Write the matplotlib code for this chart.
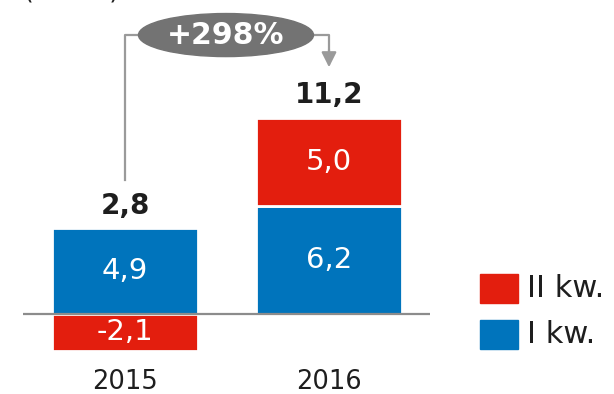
import matplotlib
matplotlib.use("Agg")
import matplotlib.pyplot as plt
from matplotlib.patches import Ellipse, Rectangle

years = ["2015", "2016"]
q1 = [4.9, 6.2]
q2 = [-2.1, 5.0]
totals = [2.8, 11.2]
change_label = "+298%"
legend_labels = ["II kw.", "I kw."]

RED = "#E31E0E"
BLUE = "#0074BC"
GREY_LINE = "#9A9A9A"
GREY_OVAL = "#737373"
TEXT = "#1E1E1E"

def fmt(v):
    return f"{v:.1f}".replace(".", ",")

W, H = 614, 394
fig = plt.figure(figsize=(W / 100, H / 100), dpi=100)
ax = fig.add_axes([0, 0, 1, 1])
px_x = 204.0
px_y = 17.5
ax.set_xlim(-125 / px_x, (W - 125) / px_x)
ax.set_ylim(-(H - 314) / px_y, 314 / px_y)
ax.axis("off")

x = list(range(len(years)))
bw = 0.718
edge = dict(edgecolor="white", linewidth=2.0)

# stacked bars: negative values go below zero, positive ones stack on top
for i in x:
    ax.bar(i, q1[i], width=bw, color=BLUE, zorder=2, **edge)
    if q2[i] >= 0:
        ax.bar(i, q2[i], bottom=q1[i], width=bw, color=RED, zorder=2, **edge)
        mid2 = q1[i] + q2[i] / 2
    else:
        ax.bar(i, q2[i], width=bw, color=RED, zorder=2, **edge)
        mid2 = q2[i] / 2
    ax.text(i, q1[i] / 2, fmt(q1[i]), color="white", fontsize=21,
            ha="center", va="center", zorder=4)
    ax.text(i, mid2, fmt(q2[i]), color="white", fontsize=21,
            ha="center", va="center", zorder=4)
    top = max(q1[i], q1[i] + q2[i])
    ax.text(i, top + 1.3, fmt(totals[i]), color=TEXT, fontsize=20,
            fontweight="bold", ha="center", va="center", zorder=4)

# zero line
ax.plot([-0.5, 1.495], [0, 0], color="#8C8C8C", lw=1.6, zorder=3,
        solid_capstyle="butt")

# category labels
for i in x:
    ax.text(i, -3.88, years[i], color=TEXT, fontsize=18.5, ha="center", va="center")

# growth bracket with oval badge
oval_x, oval_y = 0.495, 15.94
oval_w, oval_h = 0.858, 2.46
ax.plot([0, 0, oval_x - oval_w / 2], [7.66, oval_y, oval_y],
        color=GREY_LINE, lw=1.6, zorder=1)
ax.plot([oval_x + oval_w / 2, 1.0, 1.0], [oval_y, oval_y, 14.9],
        color=GREY_LINE, lw=1.6, zorder=1)
ax.annotate("", xy=(1.0, 14.1), xytext=(1.0, 15.1),
            arrowprops=dict(arrowstyle="-|>,head_length=0.9,head_width=0.45",
                            color=GREY_LINE, lw=1.6, shrinkA=0, shrinkB=0))
ax.add_patch(Ellipse((oval_x, oval_y), oval_w, oval_h, color=GREY_OVAL, zorder=2))
ax.text(oval_x, oval_y, change_label, color="white", fontsize=21.5,
        fontweight="bold", ha="center", va="center", zorder=3)

# unit label sitting at the top edge
fig.text(71 / W, 1 + 1.2 / H, "(mln zł)", color=TEXT, fontsize=18,
         ha="center", va="baseline")

# legend
legend_colors = [RED, BLUE]
for k, (lab, col) in enumerate(zip(legend_labels, legend_colors)):
    top_px = 274 + 46 * k
    fig.patches.append(Rectangle((480 / W, 1 - (top_px + 29) / H), 38 / W, 29 / H,
                                 transform=fig.transFigure, color=col))
    fig.text(527 / W, 1 - (top_px + 14.5) / H, lab, color=TEXT, fontsize=22,
             ha="left", va="center")

fig.savefig("out.png", dpi=100)
